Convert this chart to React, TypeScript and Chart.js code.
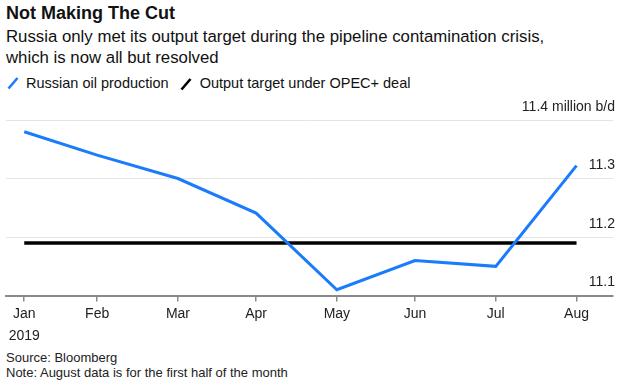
import React, { useEffect, useRef } from "react";
import { Chart, registerables } from "chart.js";

Chart.register(...registerables);

const months = ["Jan", "Feb", "Mar", "Apr", "May", "Jun", "Jul", "Aug"];
const dates = [
  "2019-01-31",
  "2019-02-28",
  "2019-03-31",
  "2019-04-30",
  "2019-05-31",
  "2019-06-30",
  "2019-07-31",
  "2019-08-31",
];
const yearLabel = "2019";
const production = [11.38, 11.34, 11.3, 11.241, 11.11, 11.16, 11.15, 11.322];
const targetValue = 11.19;
const target = months.map(() => targetValue);
const yTicks = [11.1, 11.2, 11.3, 11.4];
const yUnit = "million b/d";

const dayOfYear = (s: string) => {
  const [y, m, d] = s.split("-").map(Number);
  return (Date.UTC(y, m - 1, d) - Date.UTC(y, 0, 0)) / 86400000;
};
const xDays = dates.map(dayOfYear);

const BLUE = "#1a7cfa";
const FONT = "'Liberation Sans', Arial, Helvetica, sans-serif";

export default function App() {
  const ref = useRef<HTMLCanvasElement | null>(null);

  useEffect(() => {
    if (!ref.current) return;
    const chart = new Chart(ref.current, {
      type: "line",
      data: {
        datasets: [
          {
            label: "Russian oil production",
            data: production.map((v, i) => ({ x: xDays[i], y: v })),
            borderColor: BLUE,
            borderWidth: 3,
            pointRadius: 0,
            tension: 0,
            borderJoinStyle: "miter",
          },
          {
            label: "Output target under OPEC+ deal",
            data: target.map((v, i) => ({ x: xDays[i], y: v })),
            borderColor: "#000",
            borderWidth: 3.5,
            pointRadius: 0,
            tension: 0,
          },
        ],
      },
      options: {
        animation: false,
        responsive: false,
        maintainAspectRatio: false,
        layout: { padding: { top: 25, left: 6, right: 9, bottom: 0 } },
        plugins: {
          legend: { display: false },
          tooltip: { enabled: false },
        },
        scales: {
          x: {
            type: "linear",
            min: xDays[0] - 7,
            max: xDays[xDays.length - 1] + 14,
            afterBuildTicks: (axis: any) => {
              axis.ticks = xDays.map((d) => ({ value: d }));
            },
            grid: {
              drawOnChartArea: false,
              drawTicks: true,
              tickLength: 6,
              color: "#8a8a8a",
              lineWidth: 1.5,
            },
            border: { display: true, color: "#8a8a8a", width: 2 },
            ticks: {
              autoSkip: false,
              maxRotation: 0,
              padding: 2,
              color: "#222",
              font: { family: FONT, size: 14, lineHeight: 1.55 },
              callback: (v: any) => {
                const i = xDays.indexOf(Number(v));
                if (i < 0) return "";
                return i === 0 ? [months[i], yearLabel] : months[i];
              },
            },
          },
          y: {
            position: "right",
            min: 11.1,
            max: 11.4,
            afterBuildTicks: (axis: any) => {
              axis.ticks = yTicks.map((v) => ({ value: v }));
            },
            grid: {
              drawTicks: false,
              color: (ctx: any) =>
                ctx.tick && Math.abs(ctx.tick.value - 11.1) < 1e-6 ? "rgba(0,0,0,0)" : "#e4e4e4",
              lineWidth: 1,
            },
            border: { display: false },
            ticks: {
              mirror: true,
              padding: 2,
              labelOffset: -13,
              color: "#222",
              font: { family: FONT, size: 14 },
              callback: (v: any) => {
                const n = Number(v);
                const s = n.toFixed(1);
                return Math.abs(n - 11.4) < 1e-6 ? s + " " + yUnit : s;
              },
            },
          },
        },
      },
    });
    return () => chart.destroy();
  }, []);

  const slash = (color: string) => (
    <svg width="12" height="14" style={{ display: "inline-block", verticalAlign: "middle" }}>
      <line x1="1.5" y1="12.5" x2="10.5" y2="2" stroke={color} strokeWidth="2.6" strokeLinecap="butt" />
    </svg>
  );

  return (
    <div
      style={{
        position: "fixed",
        left: 0,
        top: 0,
        width: 626,
        height: 380,
        background: "#fff",
        fontFamily: FONT,
        color: "#111",
        overflow: "hidden",
      }}
    >
      <div style={{ position: "absolute", left: 6, top: 2, fontSize: 18, fontWeight: "bold", lineHeight: "22px" }}>
        Not Making The Cut
      </div>
      <div style={{ position: "absolute", left: 6, top: 26, fontSize: 16.8, lineHeight: "21px", width: 620 }}>
        Russia only met its output target during the pipeline contamination crisis,
        <br />
        which is now all but resolved
      </div>
      <div
        style={{
          position: "absolute",
          left: 7,
          top: 74,
          fontSize: 14.5,
          lineHeight: "18px",
          display: "flex",
          alignItems: "center",
          whiteSpace: "nowrap",
        }}
      >
        {slash(BLUE)}
        <span style={{ marginLeft: 7 }}>Russian oil production</span>
        <span style={{ marginLeft: 11 }}>{slash("#000")}</span>
        <span style={{ marginLeft: 8 }}>Output target under OPEC+ deal</span>
      </div>
      <canvas
        ref={ref}
        width={626}
        height={254}
        style={{ position: "absolute", left: 0, top: 95, width: 626, height: 254 }}
      />
      <div style={{ position: "absolute", left: 6, top: 350, fontSize: 13, lineHeight: "15px", color: "#222" }}>
        Source: Bloomberg
        <br />
        Note: August data is for the first half of the month
      </div>
    </div>
  );
}
